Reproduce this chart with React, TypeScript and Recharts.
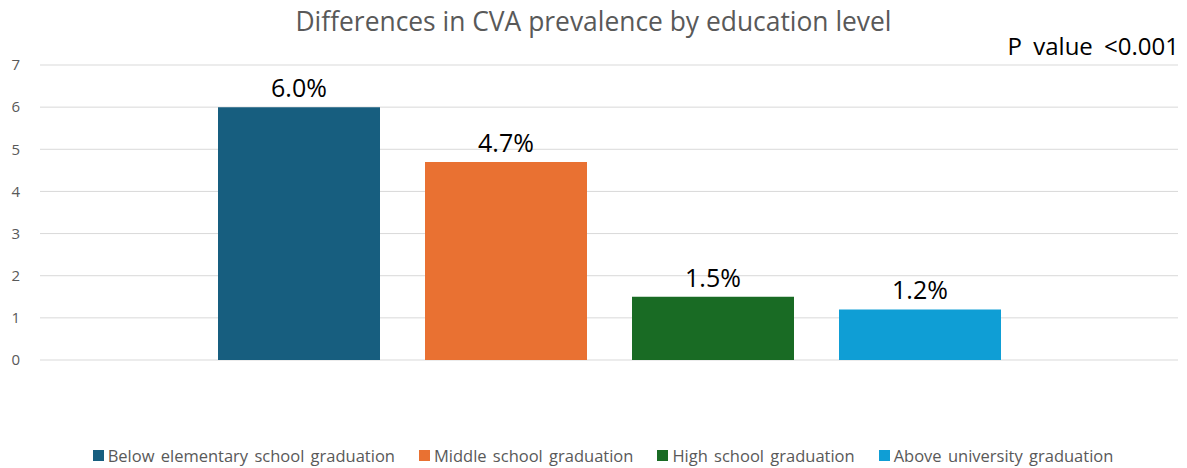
import React from 'react';
import { BarChart, Bar, XAxis, YAxis, CartesianGrid, Legend, LabelList } from 'recharts';

const categories = [''];
const seriesNames = [
  'Below elementary school graduation',
  'Middle school graduation',
  'High school graduation',
  'Above university graduation',
];
const seriesValues = [6.0, 4.7, 1.5, 1.2];
const seriesColors = ['#175E7F', '#E97132', '#196B24', '#0F9ED5'];
const yTicks = [0, 1, 2, 3, 4, 5, 6, 7];
const titleText = 'Differences in CVA prevalence by education level';
const pValueText = 'P value <0.001';

const data = categories.map((c) => {
  const row: Record<string, any> = { name: c };
  seriesNames.forEach((s, i) => {
    row['s' + i] = seriesValues[i];
  });
  return row;
});

const FONT = '"Open Sans", "Noto Sans", sans-serif';

const LegendContent = () => (
  <div style={{ display: 'flex', justifyContent: 'center', alignItems: 'center', fontFamily: FONT, fontSize: 16.5, color: '#595959', wordSpacing: 2, height: 24 }}>
    {seriesNames.map((s, i) => (
      <div key={s} style={{ display: 'flex', alignItems: 'center', margin: '0 12px' }}>
        <span style={{ display: 'inline-block', width: 11, height: 11, background: seriesColors[i], marginRight: 4 }} />
        <span style={{ whiteSpace: 'nowrap' }}>{s}</span>
      </div>
    ))}
  </div>
);

export default function App() {
  return (
    <div style={{ position: 'absolute', left: 0, top: 0, width: 1187, height: 468, background: '#fff', fontFamily: FONT }}>
      <div style={{ position: 'absolute', left: 0, top: 3, width: 1187, textAlign: 'center', fontSize: 26.4, color: '#595959', whiteSpace: 'nowrap' }}>
        {titleText}
      </div>
      <div style={{ position: 'absolute', right: 8, top: 29, fontSize: 24, color: '#000', whiteSpace: 'nowrap', wordSpacing: 5 }}>
        {pValueText}
      </div>
      <BarChart
        width={1187}
        height={468}
        data={data}
        margin={{ top: 65, right: 9, bottom: 84, left: 0 }}
        barCategoryGap="15.6%"
        barGap={45}
        style={{ fontFamily: FONT }}
      >
        <CartesianGrid vertical={false} stroke="#D9D9D9" strokeWidth={1} />
        <XAxis dataKey="name" hide />
        <YAxis
          width={40}
          domain={[0, 7]}
          ticks={yTicks}
          axisLine={false}
          tickLine={false}
          tickSize={0}
          tickMargin={20}
          tick={{ fill: '#595959', fontSize: 15, fontFamily: FONT }}
          interval={0}
        />
        <Legend
          verticalAlign="bottom"
          align="center"
          height={24}
          wrapperStyle={{ bottom: 1, left: 14, width: 1178 }}
          content={<LegendContent />}
        />
        {seriesNames.map((s, i) => (
          <Bar key={s} dataKey={'s' + i} name={s} fill={seriesColors[i]} barSize={162} isAnimationActive={false}>
            <LabelList
              dataKey={'s' + i}
              position="top"
              offset={10}
              formatter={(v: any) => `${Number(v).toFixed(1)}%`}
              style={{ fill: '#000', fontSize: 25, fontFamily: FONT }}
            />
          </Bar>
        ))}
      </BarChart>
    </div>
  );
}
